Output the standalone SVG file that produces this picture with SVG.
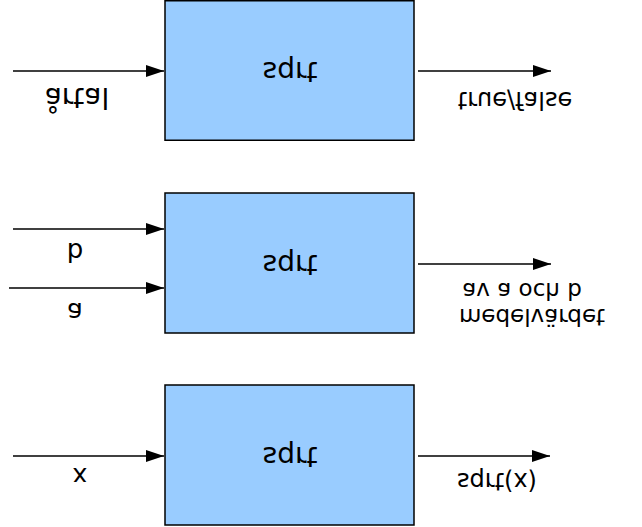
<svg xmlns="http://www.w3.org/2000/svg" width="642" height="527" viewBox="0 0 642 527">
<style>
.box{fill:#99ccff;stroke:#000;stroke-width:1.5}
.ln{stroke:#000;stroke-width:1.3;fill:none;marker-end:url(#ah)}
text{font-family:"DejaVu Sans",sans-serif;fill:#000;text-anchor:middle}
.big{font-size:28px}
.lab{font-size:24px}
</style>
<defs>
<marker id="ah" markerUnits="userSpaceOnUse" markerWidth="20" markerHeight="12" refX="18" refY="6" orient="auto">
<path d="M0,0 L18,6 L0,12 Z" fill="#000"/>
</marker>
</defs>
<g id="connectors">
<line class="ln" x1="13" y1="71" x2="164" y2="71"/>
<line class="ln" x1="418" y1="71" x2="551" y2="71"/>
<line class="ln" x1="13" y1="229" x2="164" y2="229"/>
<line class="ln" x1="9" y1="288" x2="164" y2="288"/>
<line class="ln" x1="418" y1="264" x2="551" y2="264"/>
<line class="ln" x1="13" y1="456" x2="164" y2="456"/>
<line class="ln" x1="418" y1="456" x2="550" y2="456"/>
</g>
<g id="node1">
<rect class="box" x="165" y="0.75" width="249" height="139.5"/>
<text class="big" transform="translate(290,62) scale(1,-1)">sqrt</text>
</g>
<g id="node2">
<rect class="box" x="165" y="193" width="249" height="140"/>
<text class="big" transform="translate(290,255) scale(1,-1)">sqrt</text>
</g>
<g id="node3">
<rect class="box" x="165" y="385" width="249" height="140"/>
<text class="big" transform="translate(290,447) scale(1,-1)">sqrt</text>
</g>
<g id="labels">
<text class="big" transform="translate(77,88) scale(1,-1)">årtal</text>
<text class="lab" transform="translate(515,92) scale(1,-1)">true/false</text>
<text class="lab" style="font-size:26px" transform="translate(75,243) scale(1,-1)">b</text>
<text class="lab" style="font-size:26px" transform="translate(75,303) scale(1,-1)">a</text>
<text class="lab" style="font-size:23px" transform="translate(522,283) scale(1,-1)">av a och b</text>
<text class="lab" style="font-size:23px" transform="translate(532,309) scale(1,-1)">medelvärdet</text>
<text class="lab" style="font-size:25px" transform="translate(80,468) scale(1,-1)">x</text>
<text class="lab" transform="translate(497,473) scale(1,-1)">sqrt(x)</text>
</g>
</svg>
